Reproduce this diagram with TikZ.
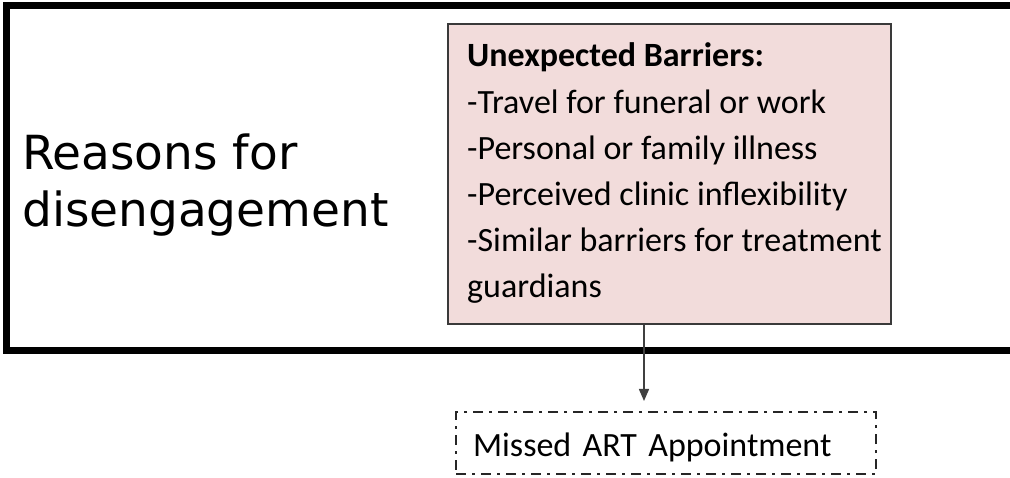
\documentclass[tikz,border=0pt]{standalone}
\usepackage{fontspec}
\usetikzlibrary{arrows.meta}
\newfontfamily\verdfont{DejaVu Sans}
\newfontfamily\calfont{Carlito}
\definecolor{pinkfill}{HTML}{F2DCDB}
\definecolor{boxedge}{HTML}{3A3A3A}
\begin{document}
\begin{tikzpicture}[x=1pt,y=-1pt,
  frame/.style={line width=7pt,line join=miter},
  pinkbox/.style={draw=boxedge,line width=1.8pt,fill=pinkfill,inner sep=0pt,anchor=north west},
  bartext/.style={font=\calfont\fontsize{34}{46.2}\selectfont,align=left,inner sep=0pt,anchor=base west},
  reasontext/.style={font=\verdfont\fontsize{47}{57}\selectfont,align=left,inner sep=0pt,anchor=base west},
  missedbox/.style={draw=black!85,line width=2.2pt,dash pattern=on 10pt off 6pt on 3pt off 6pt,
     font=\calfont\fontsize{34}{40}\selectfont,align=left,text width=386pt,inner xsep=17pt,inner ysep=18pt,
     text height=26pt,text depth=0pt,anchor=north west},
  conn/.style={draw=black!75,line width=1.5pt,-{Triangle[width=10pt,length=12pt]}}
]
\useasboundingbox (0,0) rectangle (1010,478);
\fill[white] (0,0) rectangle (1010,478);
\draw[frame] (1014,6) -- (6,6) -- (6,350.5) -- (1014,350.5);
\node[reasontext] (reasons) at (22,227) {Reasons for\\disengagement};
\node[pinkbox,minimum width=443pt,minimum height=300pt] (barriers) at (447,23) {};
\node[bartext] (bartxt) at (467,298) {\textbf{Unexpected Barriers:}\\-Travel for funeral or work\\-Personal or family illness\\-Perceived clinic inflexibility\\-Similar barriers for treatment\\guardians};
\node[missedbox] (missed) at (455,411) {Missed ART Appointment};
\coordinate (ax) at (644,0);
\draw[conn,shorten >=10pt] (barriers.south -| ax) -- (missed.north -| ax);
\end{tikzpicture}
\end{document}
